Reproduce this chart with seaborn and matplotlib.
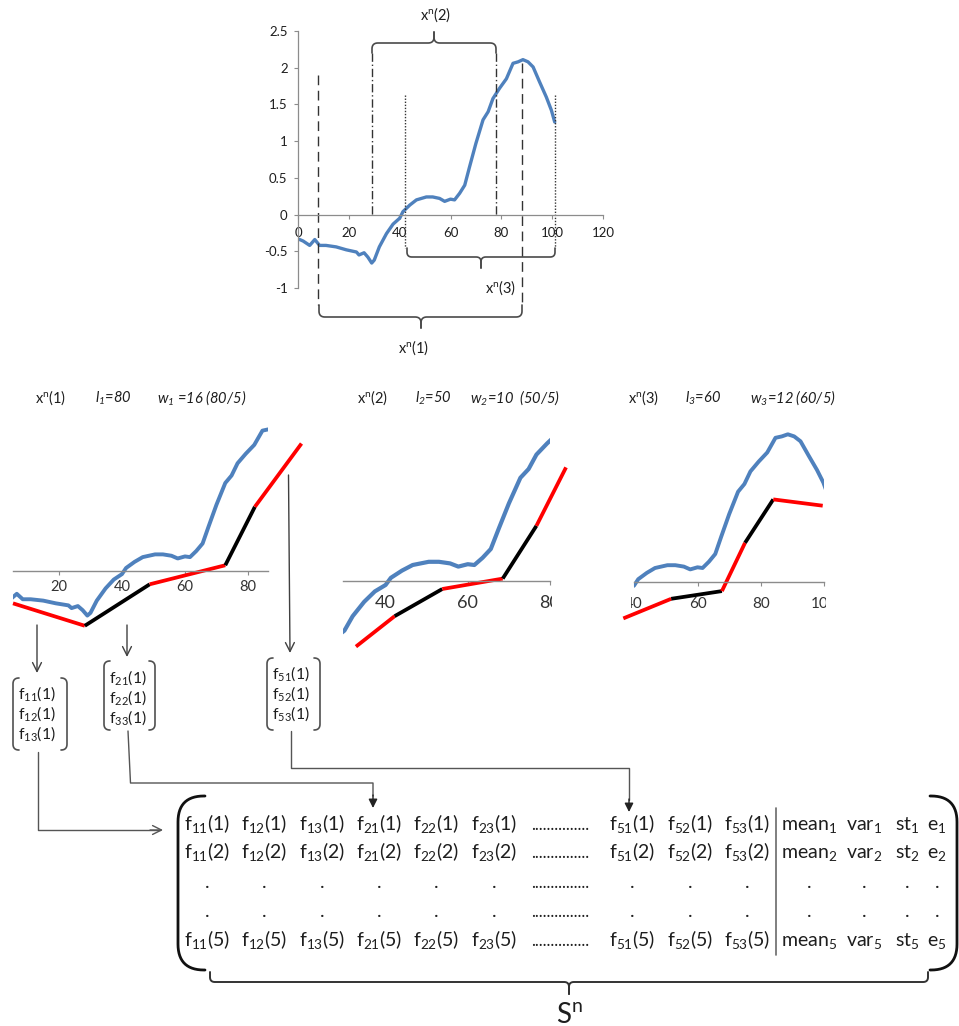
import numpy as np
import matplotlib
matplotlib.use("Agg")
import matplotlib.pyplot as plt
import seaborn as sns
from matplotlib.transforms import Bbox

# ---------------- data ----------------
curve_x = [0, 2, 4.6, 6.6, 8.5, 11, 15, 19, 23, 24, 26, 27.5, 29, 30, 32, 34.8, 37.4, 40,
           41.3, 44, 46.6, 50.5, 53, 55.7, 57.7, 60, 61.6, 63.6, 65.6, 67.5, 70, 72.8,
           74.8, 76.7, 79.3, 82, 84.6, 86.6, 88.5, 90.5, 92.5, 95, 97.7, 99.7, 101]
curve_y = [-0.33, -0.36, -0.42, -0.34, -0.42, -0.42, -0.44, -0.48, -0.51, -0.55, -0.52,
           -0.58, -0.66, -0.62, -0.44, -0.26, -0.13, -0.05, 0.04, 0.13, 0.20, 0.24, 0.24,
           0.22, 0.18, 0.21, 0.20, 0.29, 0.40, 0.65, 0.97, 1.29, 1.40, 1.58, 1.72, 1.85,
           2.06, 2.08, 2.11, 2.08, 2.01, 1.81, 1.60, 1.42, 1.26]

top_xticks = [0, 20, 40, 60, 80, 100, 120]
top_yticks = [-1, -0.5, 0, 0.5, 1, 1.5, 2, 2.5]
top_yticklabels = ["-1", "-0.5", "0", "0.5", "1", "1.5", "2", "2.5"]

win_names = ["x$^n$(1)", "x$^n$(2)", "x$^n$(3)"]
win_start = [8, 29, 42]
win_end = [88, 78, 101]
win_len = [80, 50, 60]
win_w = [16, 10, 12]

# piece-wise linear approximations (breakpoints) shown under each window
seg1_x = [5.4, 28.2, 48.8, 72.8, 82.2, 97.0]
seg1_y = [-0.48, -0.81, -0.20, 0.08, 0.94, 1.87]
seg2_x = [32.8, 42.2, 53.8, 68.5, 76.7, 83.9]
seg2_y = [-0.82, -0.44, -0.10, 0.03, 0.69, 1.42]
seg3_x = [36.6, 51.7, 67.7, 75.0, 83.9, 99.5]
seg3_y = [-0.52, -0.24, -0.13, 0.56, 1.18, 1.09]

panel1_ticks = [20, 40, 60, 80]
panel2_ticks = [40, 60, 80]
panel3_ticks = [40, 60, 80, 100]

box1_labels = ["f$_{11}$(1)", "f$_{12}$(1)", "f$_{13}$(1)"]
box2_labels = ["f$_{21}$(1)", "f$_{22}$(1)", "f$_{33}$(1)"]
box3_labels = ["f$_{51}$(1)", "f$_{52}$(1)", "f$_{53}$(1)"]

feat_cols = ["11", "12", "13", "21", "22", "23", None, "51", "52", "53"]
stat_cols = ["mean", "var", "st", "e"]
row_ids = ["1", "2", None, None, "5"]

# ---------------- style ----------------
sns.set_theme(style="white")
plt.rcParams["font.family"] = ["Lato", "DejaVu Sans"]
plt.rcParams["mathtext.fontset"] = "custom"
plt.rcParams["mathtext.rm"] = "Lato"
plt.rcParams["mathtext.it"] = "Lato:italic"
plt.rcParams["mathtext.default"] = "regular"

W, H = 959, 1026
fig = plt.figure(figsize=(W / 100, H / 100), dpi=100)
fig.patch.set_facecolor("white")

BLUE = "#4F81BD"
AXC = "#8c8c8c"
TXT = "#1e1e1e"

ov = fig.add_axes([0, 0, 1, 1])
ov.set_xlim(0, W)
ov.set_ylim(H, 0)
ov.axis("off")


def data_axes(xlim, ylim, xpx, ypx):
    x0, x1 = xpx
    yb, yt = ypx
    ax = fig.add_axes([x0 / W, 1 - yb / H, (x1 - x0) / W, (yb - yt) / H])
    ax.set_facecolor("none")
    ax.set_xlim(xlim)
    ax.set_ylim(ylim)
    return ax


def rounded(points, r, n=16):
    P = np.array(points, float)
    out = [P[0]]
    m = len(P)
    for i in range(1, m - 1):
        a, b, c = P[i - 1], P[i], P[i + 1]
        la, lc = np.linalg.norm(a - b), np.linalg.norm(c - b)
        u, v = (a - b) / la, (c - b) / lc
        rr = min(r, la if i - 1 == 0 else la / 2, lc if i + 1 == m - 1 else lc / 2)
        p1, p2 = b + u * rr, b + v * rr
        for t in np.linspace(0, 1, n):
            out.append((1 - t) ** 2 * p1 + 2 * (1 - t) * t * b + t ** 2 * p2)
    out.append(P[-1])
    return np.array(out)


def draw_poly(points, r, **kw):
    p = rounded(points, r)
    ov.plot(p[:, 0], p[:, 1], solid_capstyle="round", **kw)


def hbrace(x0, x1, y, yend, xtip, ytip, r=6, **kw):
    draw_poly([(x0, yend), (x0, y), (xtip, y), (xtip, ytip)], r, **kw)
    draw_poly([(x1, yend), (x1, y), (xtip, y), (xtip, ytip)], r, **kw)


def bracket(x0, x1, y0, y1, r, **kw):
    draw_poly([(x0 + r, y0), (x0, y0), (x0, y1), (x0 + r, y1)], r, **kw)
    draw_poly([(x1 - r, y0), (x1, y0), (x1, y1), (x1 - r, y1)], r, **kw)


# ---------------- top plot ----------------
ax = data_axes((0, 120), (-1, 2.5), (298, 603), (288, 31))
sns.lineplot(x=curve_x, y=curve_y, ax=ax, color=BLUE, linewidth=2.4, sort=False)
for s in ["right", "top"]:
    ax.spines[s].set_visible(False)
ax.spines["bottom"].set_position(("data", 0))
for s in ["left", "bottom"]:
    ax.spines[s].set_color(AXC)
    ax.spines[s].set_linewidth(0.9)
ax.set_xticks(top_xticks)
ax.set_xticklabels([str(t) for t in top_xticks])
ax.set_yticks(top_yticks)
ax.set_yticklabels(top_yticklabels)
ax.tick_params(axis="both", which="major", direction="out", length=3, width=0.8,
               color=AXC, labelsize=9.5, labelcolor=TXT, bottom=True, left=True)
ax.tick_params(axis="x", pad=6)
ax.tick_params(axis="y", pad=4.5)
ax.set_xlabel("")
ax.set_ylabel("")

# window boundary lines
styles = [dict(ls=(0, (7, 4))), dict(ls=(0, (6, 2, 1, 2))), dict(ls=(0, (1, 1.2)))]
v_top = [[1.9, 2.06], [2.2, 2.2], [1.63, 1.63]]
v_bot = [-1.23, 0.0, -0.46]
for k in range(3):
    for j, xv in enumerate([win_start[k], win_end[k]]):
        ax.plot([xv, xv], [v_top[k][j], v_bot[k]], color="#333333", lw=1.0,
                clip_on=False, **styles[k])

BR = dict(color="#4a4a4a", lw=1.2)
hbrace(372, 496, 43, 53, 434, 32, r=6, **BR)
hbrace(407, 555, 257, 248, 481, 268, r=5, **BR)
hbrace(319, 522, 317, 305, 421, 328, r=6, **BR)
ov.text(436, 20, win_names[1], ha="center", va="baseline", fontsize=10.5, color=TXT)
ov.text(501, 293, win_names[2], ha="center", va="baseline", fontsize=10.5, color=TXT)
ov.text(414, 353, win_names[0], ha="center", va="baseline", fontsize=10.5, color=TXT)


# ---------------- zoomed panels ----------------
def style_panel(ax, ticks, fs, pad, clip=None):
    for s in ["left", "right", "top"]:
        ax.spines[s].set_visible(False)
    ax.spines["bottom"].set_position(("data", 0))
    ax.spines["bottom"].set_color(AXC)
    ax.spines["bottom"].set_linewidth(1.0)
    ax.set_xticks(ticks)
    ax.set_xticklabels([str(t) for t in ticks])
    ax.set_yticks([])
    ax.tick_params(axis="x", direction="out", length=3, width=0.8, color=AXC,
                   labelsize=fs, labelcolor="#333333", pad=pad, bottom=True)
    ax.set_xlabel("")
    ax.set_ylabel("")
    if clip is not None:
        bb = Bbox.from_extents(clip[0], 0, clip[1], H)
        for lbl in ax.get_xticklabels():
            lbl.set_clip_on(True)
            lbl.set_clip_box(bb)


def draw_segments(ax, xs, ys):
    for i in range(len(xs) - 1):
        ax.plot(xs[i:i + 2], ys[i:i + 2], color="#FF0000" if i % 2 == 0 else "#000000",
                lw=2.7, clip_on=False, solid_capstyle="butt")


p1 = data_axes((5.4, 86.3), (-1, 2.3), (13, 267.8), (638.7, 414.3))
sns.lineplot(x=curve_x, y=curve_y, ax=p1, color=BLUE, linewidth=2.8, sort=False)
style_panel(p1, panel1_ticks, 10.5, 4.0)
draw_segments(p1, seg1_x, seg1_y)

p2 = data_axes((29.7, 79.3), (-1, 2.2), (343.2, 550.0), (661, 405))
sns.lineplot(x=curve_x, y=curve_y, ax=p2, color=BLUE, linewidth=3.0, sort=False)
style_panel(p2, panel2_ticks, 13, 7.0, clip=(330, 552))
draw_segments(p2, seg2_x, seg2_y)

p3 = data_axes((40, 100), (-1, 2.5), (634.1, 824.3), (652, 407))
sns.lineplot(x=curve_x, y=curve_y, ax=p3, color=BLUE, linewidth=2.8, sort=False)
style_panel(p3, panel3_ticks, 11, 8.0, clip=(631, 826))
draw_segments(p3, seg3_x, seg3_y)

# panel headers
hdr_x = [(35, 95, 157), (357, 415, 470), (628, 685, 750)]
for k in range(3):
    xa, xb, xc = hdr_x[k]
    ov.text(xa, 403, win_names[k], ha="left", va="baseline", fontsize=10.5, color=TXT)
    ov.text(xb, 403, "l$_%d$=%d" % (k + 1, win_len[k]), ha="left", va="baseline",
            fontsize=10.5, color=TXT, style="italic")
    sep = " =" if k == 0 else "="
    gap = "  " if k == 1 else " "
    ov.text(xc, 403, "w$_%d$%s%d%s(%d/5)" % (k + 1, sep, win_w[k], gap, win_len[k]),
            ha="left", va="baseline", fontsize=10.5, color=TXT, style="italic")

# ---------------- arrows to the boxes ----------------
AR = dict(arrowstyle="->", color="#404040", lw=1.0, mutation_scale=16, shrinkA=0, shrinkB=0)
ov.annotate("", xy=(37, 673), xytext=(37, 625), arrowprops=AR)
ov.annotate("", xy=(127, 657), xytext=(127, 625), arrowprops=AR)
ov.annotate("", xy=(290, 653), xytext=(288.5, 475), arrowprops=AR)

# feature boxes
BX = dict(color="#505050", lw=1.2)
bracket(13, 67, 678, 750, 6, **BX)
bracket(104, 155, 661, 730, 6, **BX)
bracket(267, 320, 658, 730, 6, **BX)
for lab, xl, ys in [(box1_labels, 18, [699, 719, 739]),
                    (box2_labels, 109, [683, 703, 723]),
                    (box3_labels, 272.5, [679, 699, 719])]:
    for t, yy in zip(lab, ys):
        ov.text(xl, yy, t, ha="left", va="baseline", fontsize=11.3, color=TXT)

# connectors to the matrix
CN = dict(color="#555555", lw=1.0)
ov.plot([38, 38, 160], [752, 830, 830], **CN)
ov.annotate("", xy=(163, 830), xytext=(150, 830),
            arrowprops=dict(arrowstyle="->", color="#555555", lw=1.0, mutation_scale=16,
                            shrinkA=0, shrinkB=0))
ov.plot([128, 130.5, 373, 373], [731, 783, 783, 796], **CN)
ov.annotate("", xy=(373, 808), xytext=(373, 795),
            arrowprops=dict(arrowstyle="-|>", color="#222222", lw=1.0, mutation_scale=13,
                            shrinkA=0, shrinkB=0))
ov.plot([291, 291, 629, 629], [731, 768, 768, 800], **CN)
ov.annotate("", xy=(629, 812), xytext=(629, 799),
            arrowprops=dict(arrowstyle="-|>", color="#222222", lw=1.0, mutation_scale=13,
                            shrinkA=0, shrinkB=0))

# ---------------- matrix S^n ----------------
col_x = [207.5, 264, 322, 379, 436, 494, 560, 632.5, 690, 747]
stat_x = [809, 864, 907, 937]
row_base = [830, 858, 888, 917, 946]
MF = 14
for r, rid in enumerate(row_ids):
    yb = row_base[r]
    for c, fc in enumerate(feat_cols):
        if fc is None:
            s = "." * 15
            fs = 12
        elif rid is None:
            s = "."
            fs = MF
        else:
            s = "f$_{%s}$(%s)" % (fc, rid)
            fs = MF
        ov.text(col_x[c], yb, s, ha="center", va="baseline", fontsize=fs, color=TXT)
    for c, sc in enumerate(stat_cols):
        s = "." if rid is None else "%s$_%s$" % (sc, rid)
        ov.text(stat_x[c], yb, s, ha="center", va="baseline", fontsize=MF, color=TXT)

ov.plot([776, 776], [808, 955], color="#6a6a6a", lw=1.2)
MB = dict(color="#111111", lw=2.0)
draw_poly([(205, 796), (178, 796), (178, 970), (205, 970)], 26, **MB)
draw_poly([(930, 796), (957, 796), (957, 970), (930, 970)], 26, **MB)
hbrace(210, 928, 982, 972, 569, 994, r=5, color="#333333", lw=1.4)
ov.text(569, 1023, "S$^n$", ha="center", va="baseline", fontsize=20, color=TXT)

fig.savefig("out.png", dpi=100, facecolor="white")
